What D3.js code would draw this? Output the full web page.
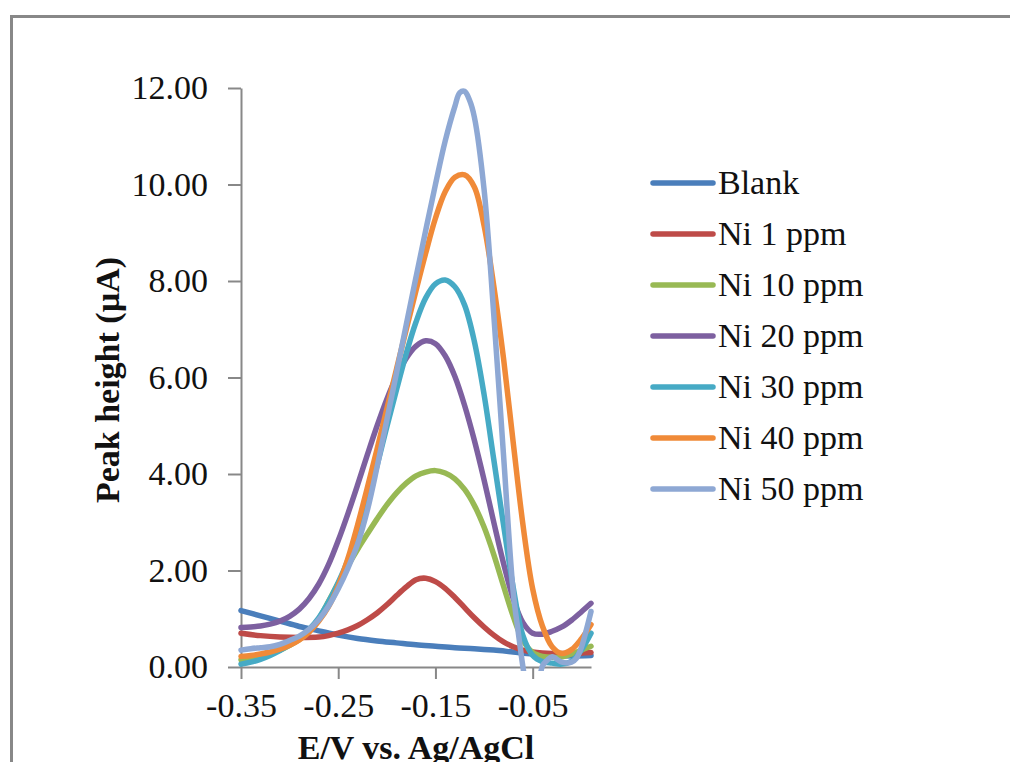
<!DOCTYPE html>
<html><head><meta charset="utf-8">
<script src="https://cdn.jsdelivr.net/npm/d3@7"></script>
<style>
html,body{margin:0;padding:0;background:#fff;}
svg{display:block;}
</style></head>
<body>
<svg id="chart" width="1010" height="762"></svg>
<script>
// ---- data ----
const seriesNames = ["Blank", "Ni 1 ppm", "Ni 10 ppm", "Ni 20 ppm", "Ni 30 ppm", "Ni 40 ppm", "Ni 50 ppm"];
const seriesColors = ["#4A7EBB", "#BE4B48", "#98B954", "#7D60A0", "#46AAC5", "#F08A38", "#8EA8D4"];
const xTickValues = [-0.35, -0.25, -0.15, -0.05];
const yTickValues = [0, 2, 4, 6, 8, 10, 12];

const blank = [[-0.35,1.17],[-0.33,1.06],[-0.31,0.95],[-0.29,0.84],[-0.27,0.75],[-0.25,0.66],[-0.23,0.59],[-0.21,0.54],[-0.19,0.50],[-0.17,0.46],[-0.15,0.43],[-0.13,0.40],[-0.11,0.38],[-0.09,0.35],[-0.07,0.31],[-0.05,0.27],[-0.03,0.24],[-0.01,0.23],[0.01,0.24]];
const ni1 = [[-0.35,0.70],[-0.33,0.65],[-0.31,0.62],[-0.29,0.61],[-0.27,0.62],[-0.26,0.65],[-0.25,0.70],[-0.24,0.77],[-0.23,0.86],[-0.22,0.98],[-0.21,1.12],[-0.20,1.29],[-0.19,1.48],[-0.18,1.66],[-0.17,1.81],[-0.16,1.84],[-0.15,1.77],[-0.14,1.63],[-0.13,1.44],[-0.12,1.23],[-0.11,1.02],[-0.10,0.83],[-0.09,0.66],[-0.08,0.52],[-0.07,0.42],[-0.06,0.35],[-0.05,0.31],[-0.04,0.29],[-0.03,0.28],[-0.01,0.28],[0.01,0.30]];
const ni10 = [[-0.35,0.15],[-0.33,0.22],[-0.31,0.35],[-0.30,0.45],[-0.29,0.57],[-0.28,0.74],[-0.27,1.00],[-0.26,1.36],[-0.25,1.74],[-0.24,2.10],[-0.23,2.44],[-0.22,2.76],[-0.21,3.07],[-0.20,3.36],[-0.19,3.61],[-0.18,3.81],[-0.17,3.96],[-0.16,4.04],[-0.15,4.07],[-0.14,4.02],[-0.13,3.90],[-0.12,3.68],[-0.11,3.35],[-0.10,2.90],[-0.09,2.33],[-0.08,1.68],[-0.07,1.05],[-0.06,0.55],[-0.05,0.30],[-0.04,0.22],[-0.03,0.20],[-0.02,0.21],[-0.01,0.27],[0.00,0.35],[0.01,0.43]];
const ni20 = [[-0.35,0.82],[-0.34,0.83],[-0.33,0.85],[-0.32,0.89],[-0.31,0.95],[-0.30,1.05],[-0.29,1.20],[-0.28,1.42],[-0.27,1.72],[-0.26,2.12],[-0.25,2.62],[-0.24,3.18],[-0.23,3.78],[-0.22,4.40],[-0.21,5.00],[-0.20,5.55],[-0.19,6.02],[-0.18,6.40],[-0.17,6.65],[-0.16,6.76],[-0.15,6.70],[-0.14,6.45],[-0.13,6.02],[-0.12,5.42],[-0.11,4.70],[-0.10,3.88],[-0.09,3.00],[-0.08,2.15],[-0.07,1.42],[-0.06,0.92],[-0.05,0.70],[-0.04,0.68],[-0.03,0.74],[-0.02,0.83],[-0.01,0.97],[0.00,1.14],[0.01,1.32]];
const ni30 = [[-0.35,0.06],[-0.34,0.10],[-0.33,0.16],[-0.32,0.24],[-0.31,0.34],[-0.30,0.46],[-0.29,0.60],[-0.28,0.78],[-0.27,1.02],[-0.26,1.35],[-0.25,1.75],[-0.24,2.22],[-0.23,2.80],[-0.22,3.45],[-0.21,4.18],[-0.20,4.98],[-0.19,5.75],[-0.18,6.50],[-0.17,7.15],[-0.16,7.65],[-0.15,7.94],[-0.14,8.02],[-0.13,7.88],[-0.12,7.50],[-0.11,6.75],[-0.10,5.65],[-0.09,4.30],[-0.08,2.95],[-0.07,1.65],[-0.06,0.65],[-0.05,0.24],[-0.04,0.11],[-0.03,0.08],[-0.02,0.06],[-0.01,0.12],[0.00,0.35],[0.01,0.70]];
const ni40 = [[-0.35,0.22],[-0.34,0.24],[-0.33,0.27],[-0.32,0.31],[-0.31,0.37],[-0.30,0.45],[-0.29,0.56],[-0.28,0.72],[-0.27,0.95],[-0.26,1.25],[-0.25,1.68],[-0.24,2.25],[-0.23,2.95],[-0.22,3.72],[-0.21,4.52],[-0.20,5.35],[-0.19,6.18],[-0.18,7.00],[-0.17,7.80],[-0.16,8.58],[-0.15,9.30],[-0.14,9.85],[-0.13,10.15],[-0.12,10.20],[-0.11,9.95],[-0.10,9.15],[-0.09,7.90],[-0.08,6.40],[-0.07,4.65],[-0.06,2.95],[-0.05,1.62],[-0.04,0.85],[-0.03,0.42],[-0.02,0.28],[-0.01,0.36],[0.00,0.58],[0.01,0.88]];
const ni50 = [[-0.35,0.35],[-0.34,0.38],[-0.33,0.40],[-0.32,0.42],[-0.31,0.47],[-0.30,0.55],[-0.29,0.64],[-0.28,0.78],[-0.27,0.98],[-0.26,1.26],[-0.25,1.62],[-0.24,2.05],[-0.23,2.55],[-0.22,3.25],[-0.21,4.15],[-0.20,5.12],[-0.19,6.10],[-0.18,7.10],[-0.17,8.08],[-0.16,9.05],[-0.15,10.00],[-0.14,10.90],[-0.13,11.62],[-0.125,11.90],[-0.12,11.93],[-0.115,11.75],[-0.11,11.40],[-0.10,9.90],[-0.09,7.30],[-0.08,4.40],[-0.07,1.55],[-0.065,0.75],[-0.06,0.00],[-0.055,-0.60],[-0.05,-0.90],[-0.045,-0.60],[-0.04,0.02],[-0.035,0.14],[-0.03,0.21],[-0.02,0.10],[-0.01,0.10],[-0.005,0.18],[0.00,0.40],[0.005,0.75],[0.01,1.15]];

const seriesData = [blank, ni1, ni10, ni20, ni30, ni40, ni50];

// ---- drawing ----
const svg = d3.select("#chart");
const FONT = "'Liberation Serif','Times New Roman',serif";
const FS = "34px";

svg.append("rect").attr("x", 11.5).attr("y", 16.5).attr("width", 1100).attr("height", 900)
  .attr("fill", "#fff").attr("stroke", "#888").attr("stroke-width", 3);

const x = d3.scaleLinear().domain([-0.35, 0.01]).range([241, 591]);
const y = d3.scaleLinear().domain([0, 12]).range([667, 88]);

svg.append("defs").append("clipPath").attr("id", "plotclip")
  .append("rect").attr("x", x.range()[0] - 5).attr("y", y(12) - 10)
  .attr("width", x.range()[1] - x.range()[0] + 10).attr("height", y(0) - y(12) + 14);

const yAxis = svg.append("g").attr("transform", `translate(${x.range()[0]},0)`)
  .call(d3.axisLeft(y).tickValues(yTickValues).tickFormat(d => d.toFixed(2)).tickSize(13).tickSizeOuter(0).tickPadding(20));
const xAxis = svg.append("g").attr("transform", `translate(0,${y(0)})`)
  .call(d3.axisBottom(x).tickValues(xTickValues).tickFormat(d => d.toFixed(2)).tickSize(12).tickSizeOuter(0).tickPadding(14));

[yAxis, xAxis].forEach(g => {
  g.select(".domain").attr("stroke", "#888").attr("stroke-width", 2);
  g.selectAll(".tick line").attr("stroke", "#888").attr("stroke-width", 2);
  g.selectAll(".tick text").attr("fill", "#111").style("font-family", FONT).style("font-size", FS);
});

const line = d3.line().x(d => x(d[0])).y(d => y(d[1])).curve(d3.curveCatmullRom.alpha(0.5));
const plot = svg.append("g").attr("clip-path", "url(#plotclip)");
seriesData.forEach((s, i) => {
  plot.append("path").datum(s).attr("d", line).attr("fill", "none")
    .attr("stroke", seriesColors[i]).attr("stroke-width", 5.5)
    .attr("stroke-linejoin", "round").attr("stroke-linecap", "round");
});

// axis titles
svg.append("text").attr("x", 416).attr("y", 759).attr("text-anchor", "middle")
  .style("font-family", FONT).style("font-size", FS).style("font-weight", "bold").attr("fill", "#111")
  .text("E/V vs. Ag/AgCl");
svg.append("text").attr("transform", "translate(119,380) rotate(-90)").attr("text-anchor", "middle")
  .style("font-family", FONT).style("font-size", FS).style("font-weight", "bold").attr("fill", "#111")
  .text("Peak height (µA)");

// legend
const legend = svg.append("g");
seriesNames.forEach((name, i) => {
  const ly = 183 + i * 51;
  legend.append("line").attr("x1", 653).attr("x2", 713).attr("y1", ly).attr("y2", ly)
    .attr("stroke", seriesColors[i]).attr("stroke-width", 5.5).attr("stroke-linecap", "round");
  legend.append("text").attr("x", 718).attr("y", ly).attr("dy", "0.33em")
    .style("font-family", FONT).style("font-size", FS).attr("fill", "#111").text(name);
});
</script>
</body></html>
